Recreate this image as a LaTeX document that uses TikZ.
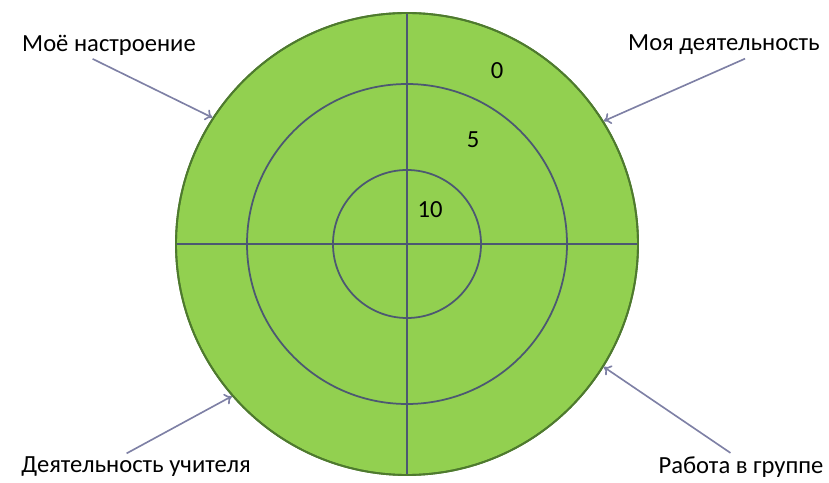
\documentclass[tikz,border=0pt]{standalone}
\usepackage{fontspec}
\setmainfont{Carlito}
\usepackage{xcolor}
\usepackage{tikz}
\usetikzlibrary{arrows.meta,calc}
\definecolor{targetGreen}{HTML}{92D050}
\definecolor{targetRim}{HTML}{4E7A2E}
\definecolor{targetLine}{HTML}{4C5872}
\definecolor{pointerGray}{HTML}{7E80A5}
\tikzset{
  ring/.style={circle, draw=targetRim, line width=1.6pt, fill=targetGreen, inner sep=0pt, minimum size=13.86cm},
  divider/.style={draw=targetLine, line width=1.5pt},
  caption/.style={font=\fontsize{21}{24}\selectfont, inner sep=1pt},
  score/.style={font=\fontsize{21}{24}\selectfont, inner sep=0pt},
  arrow/.style={-{To[length=6pt,width=10pt]}, draw=pointerGray, line width=1.4pt}
}
\begin{document}
\begin{tikzpicture}[x=0.03cm, y=-0.03cm]
\useasboundingbox (0,0) rectangle (829,483);
\coordinate (c) at (407,244);
\node[ring] (outer) at (c) {};
\draw[divider] (outer.north) -- (outer.south);
\draw[divider] (outer.west) -- (outer.east);
\draw[divider] (c) circle (160);
\draw[divider] (c) circle (74);
\draw[targetRim, line width=1.6pt] (c) circle (231);
\node[score] (s0) at (497,71) {0};
\node[score] (s5) at (473,140) {5};
\node[score] (s10) at (430,210) {10};
\node[caption] (mood) at (109,45) {Моё настроение};
\node[caption] (mine) at (724,45) {Моя деятельность};
\node[caption] (teacher) at (136,467) {Деятельность учителя};
\node[caption] (group) at (741,467) {Работа в группе};
\draw[arrow] ([xshift=-14pt,yshift=-2pt]mood.south) -- (outer.147);
\draw[arrow] ([xshift=18pt,yshift=-2pt]mine.south) -- (outer.32);
\draw[arrow] ([xshift=-8pt,yshift=2pt]teacher.north) -- (outer.221);
\draw[arrow] ([xshift=-9pt,yshift=2pt]group.north) -- (outer.-32);
\end{tikzpicture}
\end{document}
